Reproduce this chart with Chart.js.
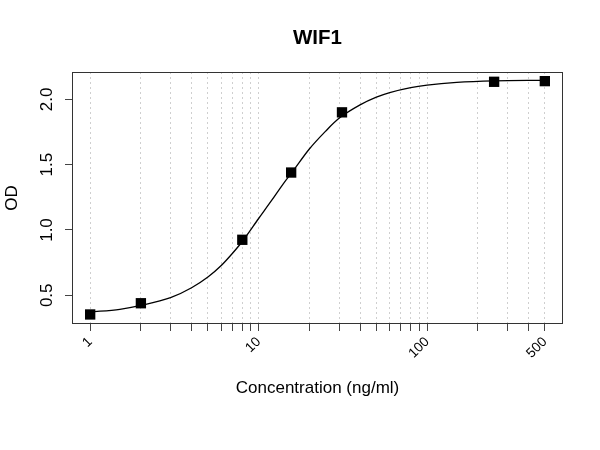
<!DOCTYPE html>
<html>
<head>
<meta charset="utf-8">
<title>WIF1</title>
<script src="https://cdn.jsdelivr.net/npm/chart.js@4.4.1/dist/chart.umd.min.js"></script>
<style>
  html, body { margin: 0; padding: 0; background: #fff; }
  #wrap { width: 600px; height: 450px; }
</style>
</head>
<body>
<div id="wrap"><canvas id="odChart" width="600" height="450"></canvas></div>
<script>
// measured standards
const concentrations = [1, 2, 8, 15.6, 31.25, 250, 500];
const odValues = [0.353, 0.439, 0.925, 1.44, 1.901, 2.135, 2.14];

// fitted curve
const curveX = [1, 1.5, 2, 3, 4, 5, 6, 7, 8, 10, 12, 14, 16, 20, 25, 30, 40, 50, 60, 80, 100, 150, 250, 500];
const curveY = [0.372, 0.392, 0.422, 0.482, 0.558, 0.64, 0.728, 0.822, 0.912, 1.088, 1.23, 1.354, 1.452, 1.62, 1.757, 1.855, 1.958, 2.017, 2.052, 2.09, 2.109, 2.13, 2.142, 2.146];

const gridTicks = [1, 2, 3, 4, 5, 6, 7, 8, 9, 10, 20, 30, 40, 50, 60, 70, 80, 90, 100, 200, 300, 400, 500];
const labelledTicks = [1, 10, 100, 500];
const yTicks = [0.5, 1.0, 1.5, 2.0];

const fontFamily = "'Liberation Sans', Arial, sans-serif";

const frameAndText = {
    id: 'frameAndText',
    afterDraw(chart) {
        const { ctx, chartArea: a, scales } = chart;
        const midX = (a.left + a.right) / 2;
        const midY = (a.top + a.bottom) / 2;

        ctx.save();
        ctx.strokeStyle = '#333';
        ctx.lineWidth = 1;
        ctx.strokeRect(a.left + 0.5, a.top + 0.5, a.right - a.left - 1, a.bottom - a.top - 1);

        ctx.fillStyle = '#000';
        ctx.textAlign = 'center';
        ctx.textBaseline = 'alphabetic';

        ctx.font = 'bold 20.5px ' + fontFamily;
        ctx.fillText('WIF1', midX, 44);

        ctx.font = '17px ' + fontFamily;
        ctx.fillText('Concentration (ng/ml)', midX, 393);

        ctx.save();
        ctx.translate(16.5, midY);
        ctx.rotate(-Math.PI / 2);
        ctx.fillText('OD', 0, 0);
        ctx.restore();

        yTicks.forEach(v => {
            const py = scales.y.getPixelForValue(v);
            ctx.save();
            ctx.translate(51.5, py);
            ctx.rotate(-Math.PI / 2);
            ctx.fillText(v.toFixed(1), 0, 0);
            ctx.restore();
        });
        ctx.restore();
    },
};

new Chart(document.getElementById('odChart'), {
    type: 'scatter',
    data: {
        datasets: [
            {
                label: 'fit',
                data: curveX.map((x, i) => ({ x, y: curveY[i] })),
                showLine: true,
                pointRadius: 0,
                borderColor: '#000',
                borderWidth: 1.3,
                cubicInterpolationMode: 'monotone',
                order: 2,
            },
            {
                label: 'WIF1',
                data: concentrations.map((x, i) => ({ x, y: odValues[i] })),
                pointStyle: 'rect',
                pointRadius: 7.3,
                backgroundColor: '#000',
                borderWidth: 0,
                order: 1,
            },
        ],
    },
    options: {
        responsive: false,
        animation: false,
        devicePixelRatio: 1,
        layout: { padding: { top: 72, right: 37, bottom: 0, left: 0 } },
        plugins: {
            legend: { display: false },
            title: { display: false },
            tooltip: { enabled: false },
        },
        scales: {
            x: {
                type: 'logarithmic',
                min: 0.78,
                max: 641,
                afterBuildTicks: scale => {
                    scale.ticks = gridTicks.map(v => ({ value: v }));
                },
                afterFit: scale => {
                    scale.height = 126;
                },
                ticks: {
                    autoSkip: false,
                    minRotation: 45,
                    maxRotation: 45,
                    color: '#000',
                    font: { family: fontFamily, size: 13.6 },
                    callback: value => (labelledTicks.includes(value) ? String(value) : ''),
                },
                grid: {
                    color: '#cfcfcf',
                    lineWidth: 1,
                    drawTicks: true,
                    tickLength: 7,
                    tickColor: '#444',
                    tickWidth: 1,
                    tickBorderDash: [],
                },
                border: { display: false, dash: [2, 3] },
            },
            y: {
                min: 0.28,
                max: 2.21,
                afterBuildTicks: scale => {
                    scale.ticks = yTicks.map(v => ({ value: v }));
                },
                afterFit: scale => {
                    scale.width = 72;
                },
                ticks: { display: false },
                grid: {
                    drawOnChartArea: false,
                    drawTicks: true,
                    tickLength: 7,
                    tickColor: '#444',
                    tickWidth: 1,
                },
                border: { display: false },
            },
        },
    },
    plugins: [frameAndText],
});
</script>
</body>
</html>
